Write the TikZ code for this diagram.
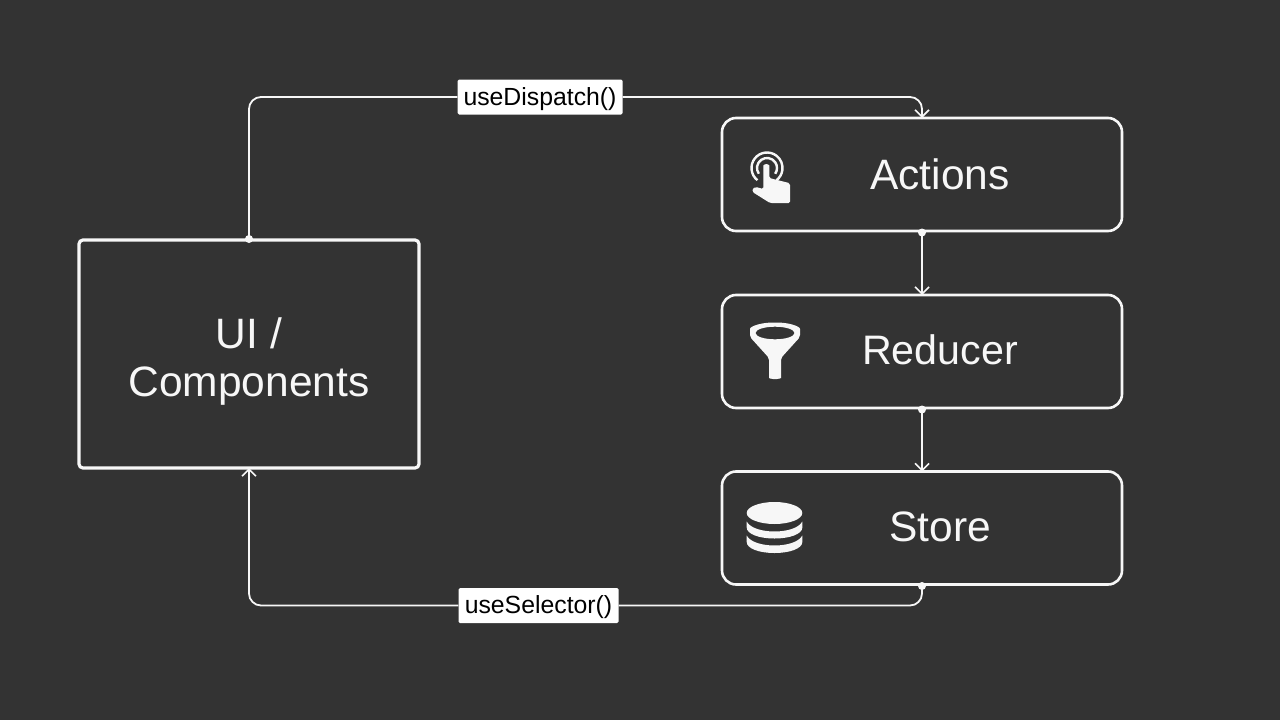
\documentclass[tikz,border=0pt]{standalone}
\usepackage{fontspec}
\setmainfont{Liberation Sans}
\usetikzlibrary{arrows.meta}
\definecolor{slatebg}{HTML}{333333}
\definecolor{chalk}{HTML}{F7F7F7}
\tikzset{
    panel/.style={draw=chalk, line width=2.6pt, rounded corners=14pt, inner sep=0pt, outer sep=0pt, minimum width=400pt, minimum height=113pt},
    uibox/.style={panel, line width=3.2pt, rounded corners=4pt, minimum width=340pt, minimum height=228pt},
    paneltext/.style={text=chalk, inner sep=0pt, align=center, font=\fontsize{42.5}{48}\selectfont},
    hooktag/.style={fill=white, text=black, rounded corners=1.5pt, inner sep=0pt, minimum height=35pt, text height=20pt, text depth=4pt, font=\fontsize{24.8}{30}\selectfont},
    link/.style={draw=chalk, line width=1.8pt, rounded corners=12pt},
    linkend/.style={link, -{Straight Barb[length=7pt,width=14pt,line width=1.6pt]}},
}
\begin{document}
\begin{tikzpicture}[x=1pt,y=1pt,yscale=-1,xscale=1]
    \fill [slatebg] (0,0) rectangle (1280,720);

    % Boxes
    \node [uibox] (ui) at (249,354) {};
    \node [panel] (actions) at (922,174.5) {};
    \node [panel] (reducer) at (922,351.5) {};
    \node [panel] (store) at (922,528) {};

    % Text Node
    \node [paneltext] (uitext) at (249,362) {UI /\\Components};
    \node [paneltext] (actionstext) at (940,174) {Actions};
    \node [paneltext, font=\fontsize{41.2}{48}\selectfont] (reducertext) at (940,350) {Reducer};
    \node [paneltext] (storetext) at (940,526.5) {Store};
    \node [hooktag, minimum width=165pt] (dispatch) at (540,97) {useDispatch()};
    \node [hooktag, minimum width=160pt] (selector) at (538.5,605.5) {useSelector()};

    % Connectors
    \draw [link] (ui.north) |- (dispatch.west);
    \draw [linkend] (dispatch.east) -| (actions.north);
    \draw [linkend] (actions.south) -- (reducer.north);
    \draw [linkend] (reducer.south) -- (store.north);
    \draw [link] (store.south) |- (selector.east);
    \draw [linkend] (selector.west) -| (ui.south);
    \fill [chalk] (ui.north) ++(0,-1) circle (4);
    \foreach \dotname in {actions.south,reducer.south,store.south}
        \fill [chalk] (\dotname) ++(0,1.5) circle (4);

    % Hand icon
    \draw [chalk, line width=2.4pt] (767,168) ++(128:15.5) arc (128:412:15.5);
    \draw [chalk, line width=2.4pt] (767,168) ++(145:10) arc (145:395:10);
    \fill [chalk, rounded corners=1.5pt] (763.3,167) arc (180:360:3) -- (769.3,178) -- (787,182.5) .. controls (789,183) and (790,184.5) .. (790,186.5) -- (790,200) .. controls (790,202) and (789,203) .. (787,203) -- (770,203) -- (752.5,192) -- (752.5,188.5) -- (756,187) -- (763.3,189) -- cycle;

    % Funnel icon
    \fill [chalk, even odd rule, rounded corners=2pt] (750,331) .. controls (750,326) and (762,322.5) .. (775,322.5) .. controls (788,322.5) and (800,326) .. (800,331) -- (800,337) -- (781,358) -- (781,376) .. controls (781,378) and (779,379) .. (775,379) .. controls (771,379) and (769,378) .. (769,376) -- (769,358) -- (750,337) -- cycle
        (775,333) ellipse (19.5 and 6.3);

    % Database icon
    \fill [chalk] (774.5,513) ellipse (27.8 and 11);
    \fill [chalk] (746.7,521.5) .. controls (750,528) and (762,531.5) .. (774.5,531.5) .. controls (787,531.5) and (799,528) .. (802.3,521.5) -- (802.3,527.5) .. controls (802.3,534) and (790,538.5) .. (774.5,538.5) .. controls (759,538.5) and (746.7,534) .. (746.7,527.5) -- cycle;
    \fill [chalk] (746.7,535.5) .. controls (750,542) and (762,545.5) .. (774.5,545.5) .. controls (787,545.5) and (799,542) .. (802.3,535.5) -- (802.3,542) .. controls (802.3,548.5) and (790,553) .. (774.5,553) .. controls (759,553) and (746.7,548.5) .. (746.7,542) -- cycle;
\end{tikzpicture}
\end{document}
